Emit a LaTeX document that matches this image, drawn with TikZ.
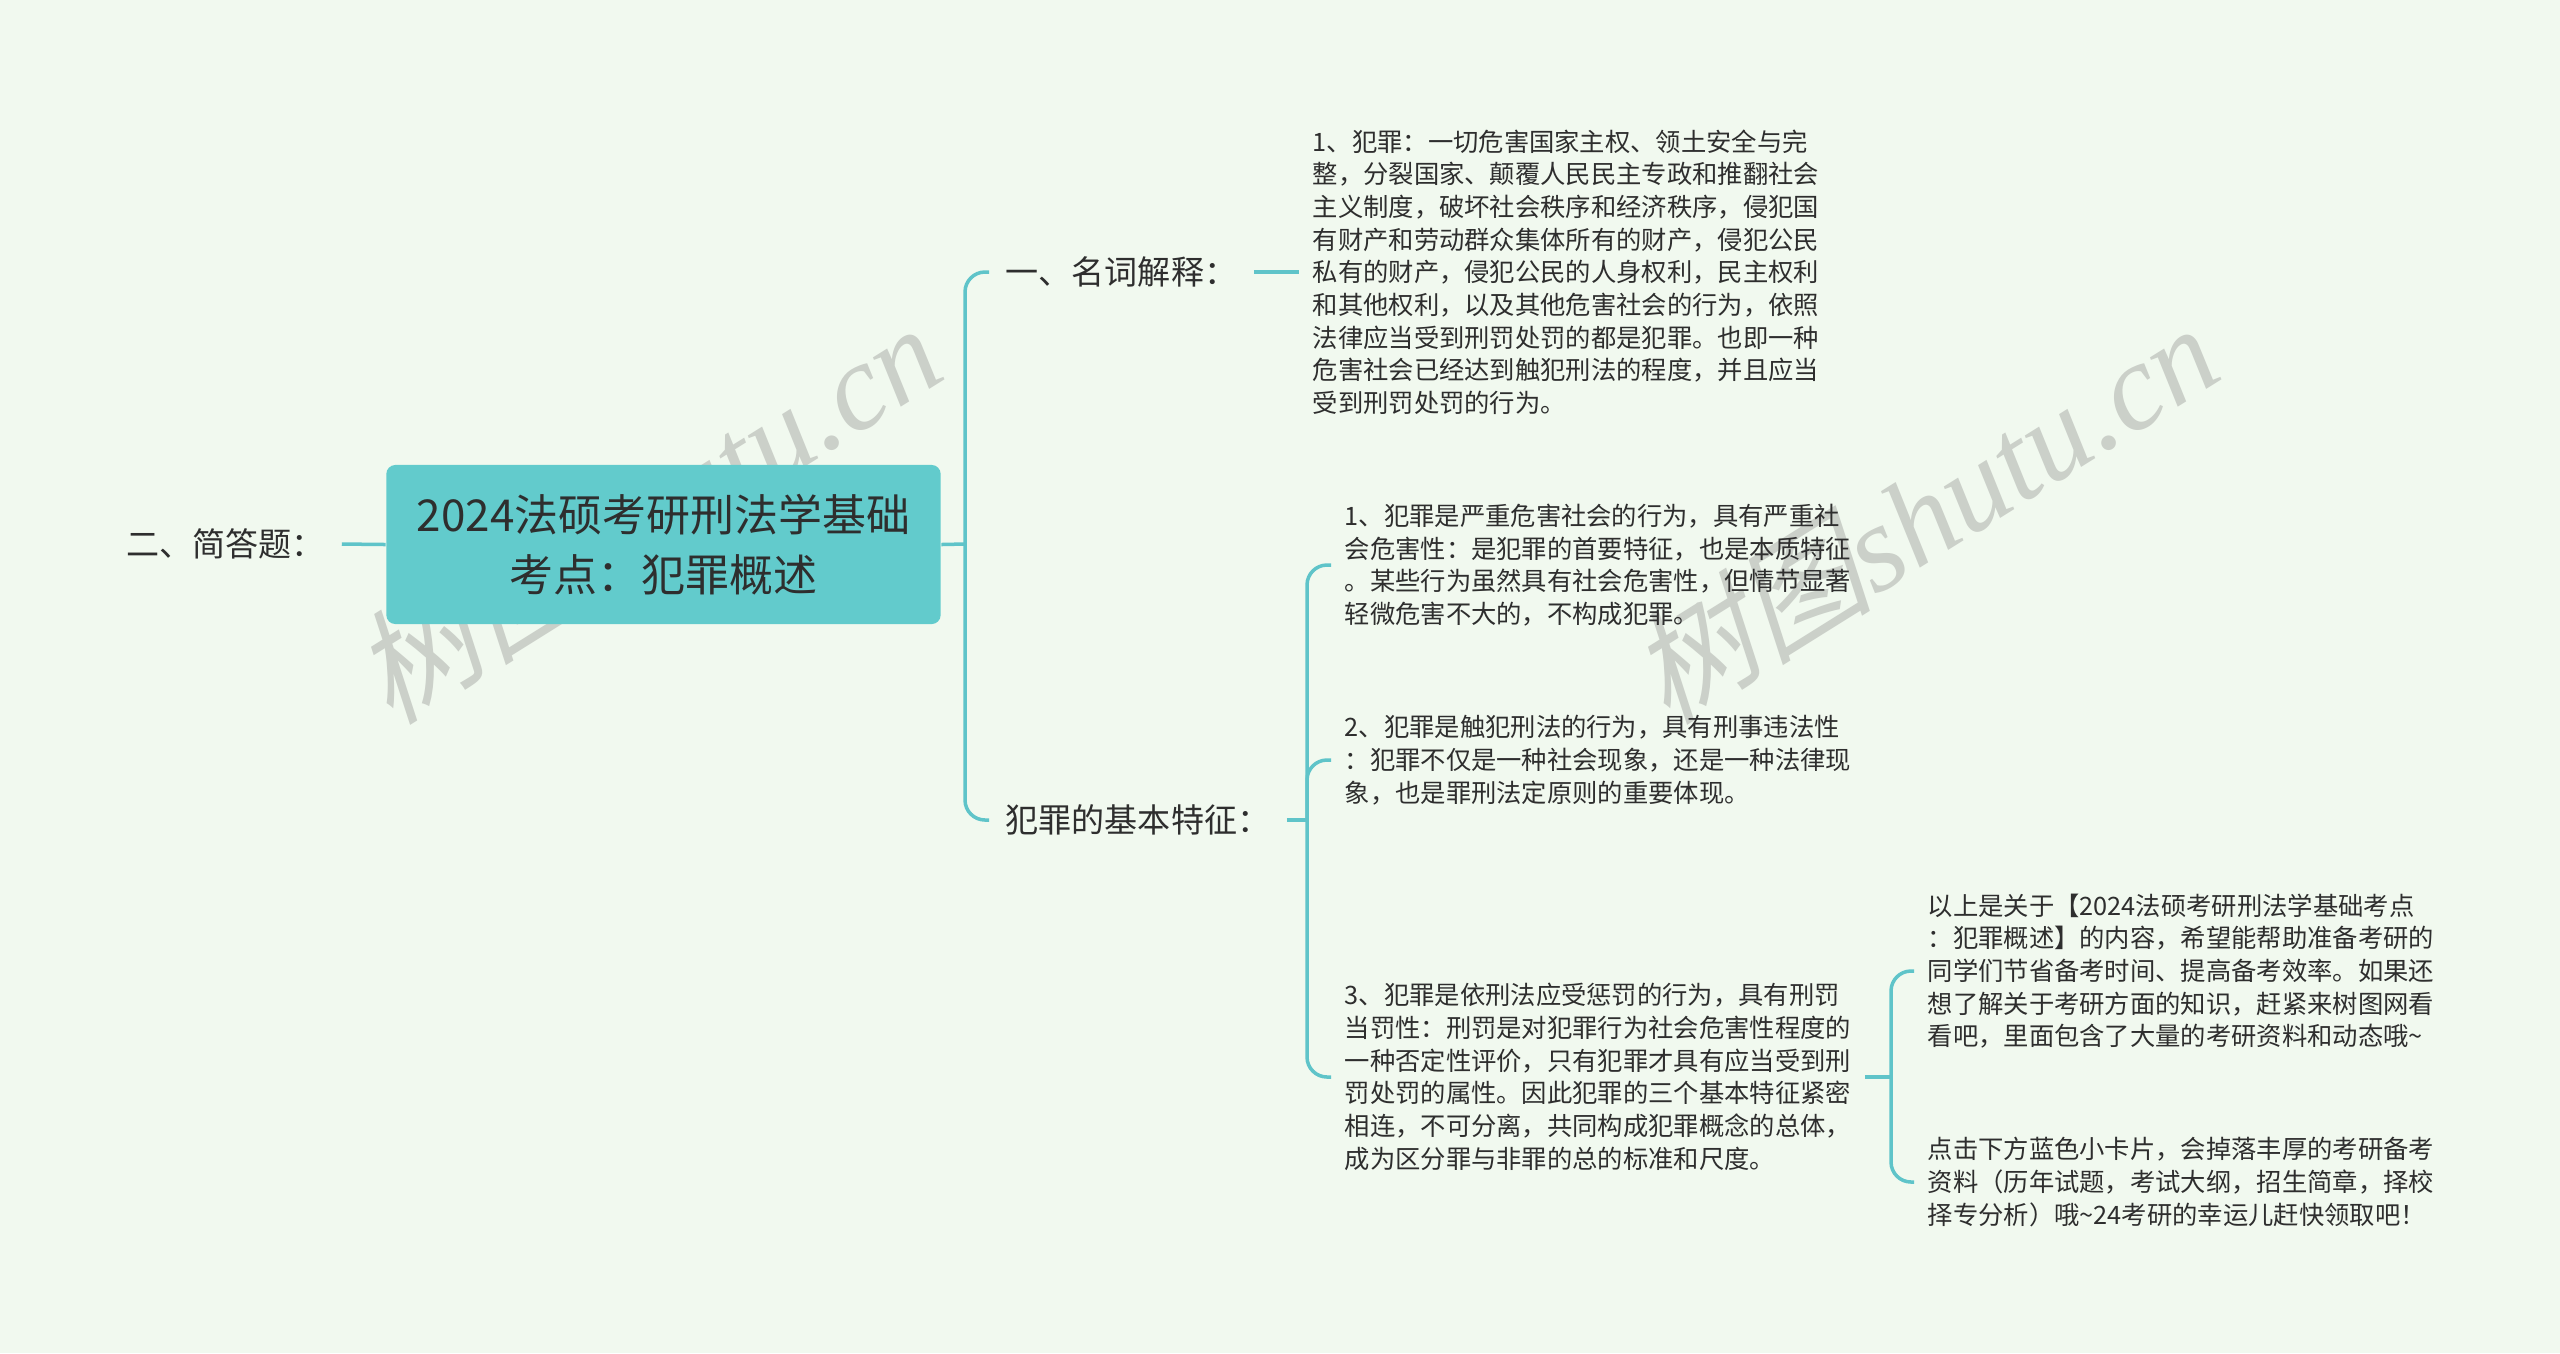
\documentclass[tikz,border=0pt]{standalone}
\usepackage{fontspec}
\setmainfont{Noto Sans CJK SC}
\newfontfamily\markserif{Liberation Serif}
\newfontfamily\markcjk[FakeSlant=0.25]{Noto Sans CJK SC}
\usepackage{xcolor}
\usepackage{tikz}
\usetikzlibrary{positioning}
\definecolor{mapbg}{HTML}{F1F9EF}
\definecolor{mapteal}{HTML}{5FC4C9}
\definecolor{maproot}{HTML}{62CBCC}
\definecolor{maptext}{HTML}{2E2E2E}
\definecolor{mapmark}{HTML}{CBD0C9}

\tikzset{
  link/.style={draw=mapteal,line width=0.035cm,rounded corners=0.2cm},
  rootbox/.style={fill=maproot,rounded corners=0.09cm,minimum width=5.54cm,minimum height=1.59cm,
    align=center,text=maptext,font=\fontsize{12.5pt}{17pt}\selectfont},
  topic/.style={anchor=west,inner xsep=0.16cm,inner ysep=0pt,text=maptext,font=\fontsize{9.4pt}{12pt}\selectfont},
  leaf/.style={anchor=west,inner xsep=0.13cm,inner ysep=0pt,align=left,text=maptext,font=\fontsize{7.2pt}{9.29pt}\selectfont},
  watermark/.style={rotate=32,text=mapmark,font=\fontsize{35pt}{40pt}\selectfont}
}

\begin{document}
\begin{tikzpicture}[x=0.01cm,y=-0.01cm]
  \fill[mapbg] (0,0) rectangle (2560,1353);
  \useasboundingbox (0,0) rectangle (2560,1353);

  % watermarks
  \node[watermark] (mark1) at (645,512) {{\markcjk 树图}{\markserif\itshape shutu.cn}};
  \node[watermark] (mark2) at (1922,512) {{\markcjk 树图}{\markserif\itshape shutu.cn}};

  % centre and first level
  \node[rootbox] (root) at (663.5,544.5) {2024法硕考研刑法学基础\\考点：犯罪概述};
  \node[topic] (short) at (110,544) {二、简答题：};
  \node[topic] (terms) at (989,272) {一、名词解释：};
  \node[topic] (traits) at (989,820) {犯罪的基本特征：};

  \node[leaf] (define) at (1299,272) {1、犯罪：一切危害国家主权、领土安全与完\\
整，分裂国家、颠覆人民民主专政和推翻社会\\
主义制度，破坏社会秩序和经济秩序，侵犯国\\
有财产和劳动群众集体所有的财产，侵犯公民\\
私有的财产，侵犯公民的人身权利，民主权利\\
和其他权利，以及其他危害社会的行为，依照\\
法律应当受到刑罚处罚的都是犯罪。也即一种\\
危害社会已经达到触犯刑法的程度，并且应当\\
受到刑罚处罚的行为。};

  % the three traits
  \foreach \txt/\ypos [count=\i] in {
      {1、犯罪是严重危害社会的行为，具有严重社\\会危害性：是犯罪的首要特征，也是本质特征\\。某些行为虽然具有社会危害性，但情节显著\\轻微危害不大的，不构成犯罪。}/565,
      {2、犯罪是触犯刑法的行为，具有刑事违法性\\：犯罪不仅是一种社会现象，还是一种法律现\\象，也是罪刑法定原则的重要体现。}/760,
      {3、犯罪是依刑法应受惩罚的行为，具有刑罚\\当罚性：刑罚是对犯罪行为社会危害性程度的\\一种否定性评价，只有犯罪才具有应当受到刑\\罚处罚的属性。因此犯罪的三个基本特征紧密\\相连，不可分离，共同构成犯罪概念的总体，\\成为区分罪与非罪的总的标准和尺度。}/1077} {
    \node[leaf] (trait\i) at (1331,\ypos) {\txt};
  }

  \node[leaf] (close1) at (1914,971) {以上是关于【2024法硕考研刑法学基础考点\\
：犯罪概述】的内容，希望能帮助准备考研的\\
同学们节省备考时间、提高备考效率。如果还\\
想了解关于考研方面的知识，赶紧来树图网看\\
看吧，里面包含了大量的考研资料和动态哦\textasciitilde};
  \node[leaf] (close2) at (1914,1182) {点击下方蓝色小卡片，会掉落丰厚的考研备考\\
资料（历年试题，考试大纲，招生简章，择校\\
择专分析）哦\textasciitilde 24考研的幸运儿赶快领取吧！};

  % connectors
  \coordinate (spineA) at (965,544);
  \coordinate (spineB) at (1307,820);
  \coordinate (spineC) at (1891,1077);
  \draw[link] (short.east) -- (root.west);
  \draw[link] (root.east) -- (spineA);
  \draw[link] (spineA) |- (terms.west);
  \draw[link] (spineA) |- (traits.west);
  \draw[link] (terms.east) -- (define.west);
  \draw[link] (traits.east) -- (spineB);
  \foreach \i in {1,2,3} \draw[link] (spineB) |- (trait\i.west);
  \draw[link] (trait3.east) -- (spineC);
  \draw[link] (spineC) |- (close1.west);
  \draw[link] (spineC) |- (close2.west);
\end{tikzpicture}
\end{document}
